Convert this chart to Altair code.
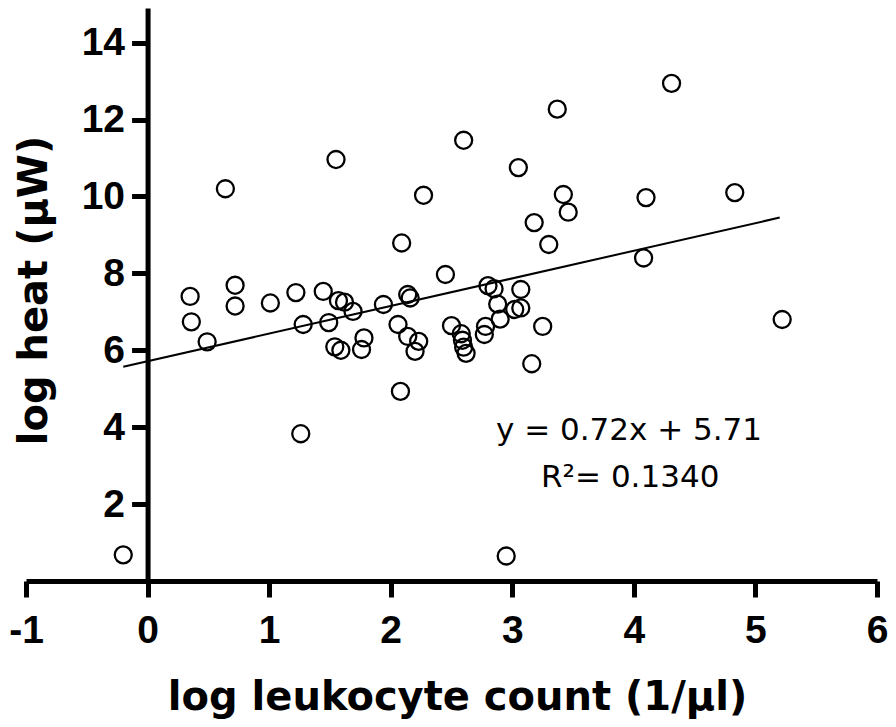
import altair as alt
import pandas as pd

# Scatter data (log leukocyte count vs log heat)
leuk = [-0.20, 0.35, 0.36, 0.49, 0.64, 0.72, 0.72, 1.01, 1.22, 1.28,
        1.26, 1.445, 1.49, 1.57, 1.62, 1.55, 1.54, 1.59, 1.69, 1.78,
        1.76, 1.94, 2.14, 2.16, 2.06, 2.14, 2.23, 2.20, 2.08, 2.09,
        2.27, 2.45, 2.50, 2.58, 2.59, 2.60, 2.62, 2.60, 2.80, 2.85,
        3.07, 2.88, 2.90, 3.02, 3.07, 2.77, 2.78, 3.25, 3.16, 2.95,
        3.05, 3.37, 3.42, 3.46, 3.18, 3.30, 4.08, 4.10, 4.31, 4.83,
        5.22]
heat = [0.68, 7.40, 6.74, 6.22, 10.20, 7.69, 7.15, 7.23, 7.50, 6.67,
        3.83, 7.53, 6.72, 7.29, 7.25, 10.96, 6.09, 6.00, 7.01, 6.32,
        6.02, 7.19, 7.45, 7.36, 6.67, 6.36, 6.23, 5.97, 4.93, 8.79,
        10.03, 7.97, 6.64, 6.43, 6.26, 6.08, 5.92, 11.46, 7.68, 7.60,
        7.58, 7.20, 6.81, 7.06, 7.10, 6.41, 6.62, 6.62, 5.65, 0.65,
        10.75, 12.27, 10.05, 9.59, 9.32, 8.75, 8.40, 9.97, 12.94, 10.10,
        6.80]

# Fitted line y = 0.72x + 5.71 (end points)
fit_x = [-0.20, 5.20]
fit_y = [5.57, 9.45]

x_ticks = [-1, 0, 1, 2, 3, 4, 5, 6]
y_ticks = [2, 4, 6, 8, 10, 12, 14]

eq_text = ["y = 0.72x + 5.71", "R\u00b2= 0.1340"]
eq_x = [3.96, 3.97]
eq_y = [3.67, 2.45]

pts = pd.DataFrame({"x": leuk, "y": heat})
fit = pd.DataFrame({"x": fit_x, "y": fit_y})
ann = pd.DataFrame({"x": eq_x, "y": eq_y, "t": eq_text})

xs = alt.Scale(domain=[-1, 6], nice=False, zero=False)
ys = alt.Scale(domain=[0, 14.9], nice=False, zero=False)

W = 851
H = 573
unit = W / 7.0

common_axis = dict(
    grid=False,
    domainColor="black", domainWidth=5,
    tickColor="black", tickWidth=5, tickSize=16,
    labelFont="Liberation Sans", labelFontWeight="bold", labelFontSize=39,
    labelColor="black", labelFlush=False, labelOverlap=False,
    titleFont="DejaVu Sans", titleFontWeight="bold", titleFontSize=40,
    titleColor="black",
    labelExpr="'' + datum.value",
)

xaxis = alt.Axis(values=x_ticks, title="log leukocyte count (1/\u03bcl)",
                 labelPadding=14, titleBaseline="alphabetic",
                 titleX=431, titleY=128, titleAlign="center", **common_axis)
yaxis = alt.Axis(values=y_ticks, title="log heat (\u03bcW)",
                 offset=-unit, labelPadding=7,
                 titleBaseline="alphabetic", titleAlign="center",
                 titleAngle=270, titleX=-101, titleY=282, **common_axis)

points = alt.Chart(pts).mark_point(
    shape="circle", filled=False, size=290, strokeWidth=2.3,
    color="black", opacity=1
).encode(
    x=alt.X("x:Q", scale=xs, axis=xaxis),
    y=alt.Y("y:Q", scale=ys, axis=yaxis),
)

line = alt.Chart(fit).mark_line(color="black", strokeWidth=2).encode(
    x=alt.X("x:Q", scale=xs),
    y=alt.Y("y:Q", scale=ys),
)

text = alt.Chart(ann).mark_text(
    font="DejaVu Sans", fontSize=31, color="black",
    align="center", baseline="alphabetic"
).encode(
    x=alt.X("x:Q", scale=xs),
    y=alt.Y("y:Q", scale=ys),
    text="t:N",
)

chart = alt.layer(points, line, text).properties(
    width=W, height=H,
    autosize=alt.AutoSizeParams(type="none"),
    padding={"left": 18, "top": 0, "right": 11, "bottom": 138},
    background="white",
).configure_view(stroke=None)

chart.save("out.html", embed_options={"renderer": "svg", "actions": False})
